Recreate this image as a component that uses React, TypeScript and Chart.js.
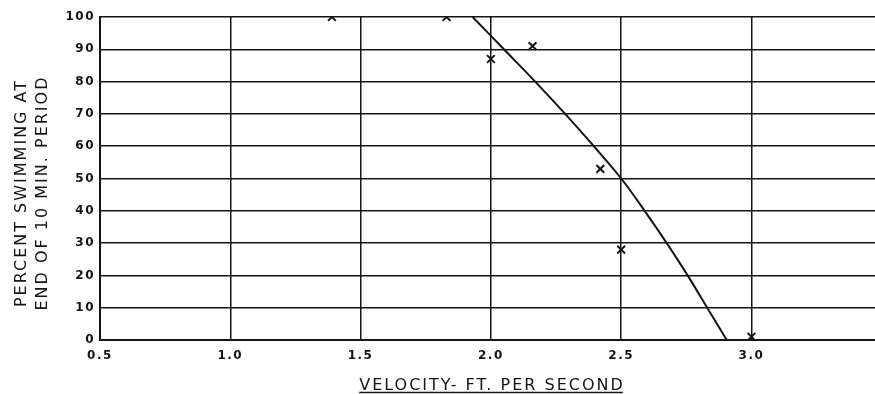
import React, { useEffect, useRef } from "react";
import { Chart, registerables } from "chart.js";

Chart.register(...registerables);

// ---- data ----
const xTicks = [0.5, 1.0, 1.5, 2.0, 2.5, 3.0];
const yTicks = [0, 10, 20, 30, 40, 50, 60, 70, 80, 90, 100];
const xMin = 0.5;
const xMax = 3.476;
const yMin = 0;
const yMax = 100;

const obsVelocity = [1.39, 1.83, 2.0, 2.16, 2.42, 2.5, 3.0];
const obsPercent = [100, 100, 87, 91, 53, 28, 1];

const curveVelocity = [1.93, 2.05, 2.17, 2.285, 2.395, 2.5, 2.59, 2.675, 2.755, 2.83, 2.905];
const curvePercent = [100, 90, 80, 70, 60, 50, 40, 30, 20, 10, 0];

const xTitle = "VELOCITY- FT. PER SECOND";
const yTitleLines = ["PERCENT SWIMMING AT", "END OF 10 MIN. PERIOD"];

const INK = "#141414";

const titlePlugin = {
  id: "customTitles",
  beforeDraw(chart: any) {
    (chart.ctx as any).letterSpacing = "1.5px";
  },
  afterDraw(chart: any) {
    const ctx = chart.ctx as any;
    ctx.save();
    ctx.letterSpacing = "2px";
    ctx.fillStyle = INK;
    ctx.strokeStyle = INK;
    ctx.font = '16px "DejaVu Sans"';
    ctx.textAlign = "center";
    ctx.textBaseline = "alphabetic";
    // x title, underlined
    const cx = 492;
    ctx.fillText(xTitle, cx, 390);
    const w = ctx.measureText(xTitle).width;
    ctx.lineWidth = 1.5;
    ctx.beginPath();
    ctx.moveTo(cx - w / 2, 392.5);
    ctx.lineTo(cx + w / 2 - 2, 392.5);
    ctx.stroke();
    // y title, two lines
    const baseXs = [25.5, 46.5];
    yTitleLines.forEach((t, i) => {
      ctx.save();
      ctx.translate(baseXs[i], 193);
      ctx.rotate(-Math.PI / 2);
      ctx.fillText(t, 0, 0);
      ctx.restore();
    });
    ctx.restore();
    ctx.letterSpacing = "0px";
  },
};

export default function App() {
  const ref = useRef<HTMLCanvasElement | null>(null);

  useEffect(() => {
    if (!ref.current) return;
    const chart = new Chart(ref.current, {
      type: "scatter",
      data: {
        datasets: [
          {
            label: "curve",
            data: curveVelocity.map((x, i) => ({ x, y: curvePercent[i] })),
            showLine: true,
            borderColor: INK,
            borderWidth: 2,
            pointRadius: 0,
            tension: 0.4,
            fill: false,
          },
          {
            label: "observed",
            data: obsVelocity.map((x, i) => ({ x, y: obsPercent[i] })),
            showLine: false,
            pointStyle: "crossRot",
            pointRadius: 5.5,
            borderColor: INK,
            backgroundColor: INK,
            pointBorderWidth: 2,
          },
        ],
      },
      options: {
        responsive: false,
        animation: false,
        layout: { padding: { top: 17, right: 0, left: 0, bottom: 0 } },
        plugins: {
          legend: { display: false },
          tooltip: { enabled: false },
          title: { display: false },
        },
        scales: {
          x: {
            type: "linear",
            min: xMin,
            max: xMax,
            afterBuildTicks: (scale: any) => {
              scale.ticks = xTicks.map((v) => ({ value: v }));
            },
            afterFit: (scale: any) => {
              scale.height = 54;
              scale.paddingLeft = 0;
              scale.paddingRight = 0;
            },
            ticks: {
              color: INK,
              padding: 9,
              maxRotation: 0,
              autoSkip: false,
              font: { family: "DejaVu Sans", size: 12, weight: "bold" },
              callback: (v: any) => Number(v).toFixed(1),
            },
            grid: { color: INK, lineWidth: 1.5, drawTicks: false },
            border: { display: true, color: INK, width: 2 },
          },
          y: {
            type: "linear",
            min: yMin,
            max: yMax,
            afterBuildTicks: (scale: any) => {
              scale.ticks = yTicks.map((v) => ({ value: v }));
            },
            afterFit: (scale: any) => {
              scale.width = 100;
            },
            ticks: {
              color: INK,
              padding: 5,
              autoSkip: false,
              font: { family: "DejaVu Sans", size: 12, weight: "bold" },
            },
            grid: { color: INK, lineWidth: 1.5, drawTicks: false },
            border: { display: true, color: INK, width: 2 },
          },
        },
      },
      plugins: [titlePlugin],
    } as any);
    return () => chart.destroy();
  }, []);

  return (
    <div
      style={{
        position: "fixed",
        left: 0,
        top: 0,
        width: 875,
        height: 394,
        overflow: "hidden",
        background: "#fff",
      }}
    >
      <canvas ref={ref} width={883} height={394} style={{ display: "block" }} />
    </div>
  );
}
